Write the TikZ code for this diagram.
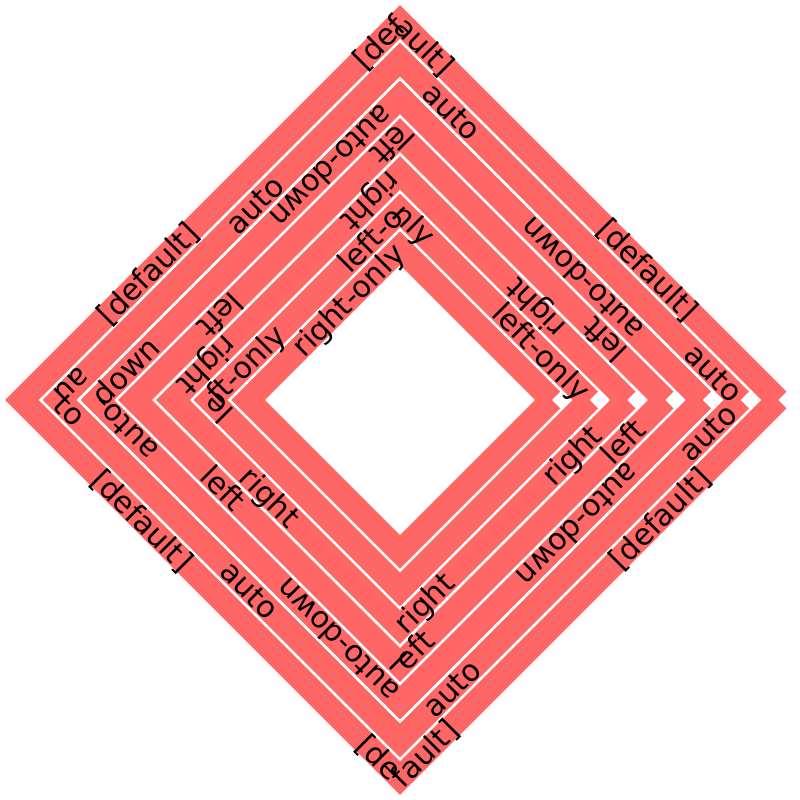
\documentclass[tikz,border=0pt]{standalone}
\usepackage{fontspec}
\newfontfamily\lblfam{DejaVu Sans}
\usetikzlibrary{decorations.text}

\definecolor{ringred}{RGB}{255,102,102}
\newcommand\lblsize{30}
\newcommand\lblfont{\lblfam\fontsize{\lblsize}{36}\selectfont}

% label #3 (#4 em wide) centred at arc length #2 on ring #1, read along the ring
\newcommand\lblfwd[4]{%
  \pgfmathsetlengthmacro\lblind{#2-0.5*#4*\lblsize}%
  \path[ringtext, decoration={text={|\lblfont|#3}, text align={left indent=\lblind}}]
    (#1,0) -- (0,#1) -- (-#1,0) -- (0,-#1) -- (#1,0);}
% same, read against the ring
\newcommand\lblrev[4]{%
  \pgfmathsetlengthmacro\lblind{5.65685*#1-#2-0.5*#4*\lblsize}%
  \path[ringtext, decoration={text={|\lblfont|#3}, text align={left indent=\lblind}}]
    (#1,0) -- (0,-#1) -- (-#1,0) -- (0,#1) -- (#1,0);}

\begin{document}
\begin{tikzpicture}[
    x=1pt, y=1pt,
    ring/.style={draw=ringred, line width=23.7pt, line cap=butt, line join=miter},
    ringtext/.style={decorate, decoration={text along path, raise=-10.5pt}}
]
\fill[white] (-400,-400) rectangle (400,400);

% Rings
\foreach \r in {378.2, 340.5, 302.7, 265.0, 227.2, 189.5, 151.8}
  \draw[ring] (\r,0) -- (0,\r) -- (-\r,0) -- (0,-\r) -- (\r,0);

% [default]
\lblrev{378.2}{184}{[default]}{4.299}
\lblrev{378.2}{530}{[default]}{4.299}
\lblrev{378.2}{891}{[default]}{4.299}
\lblfwd{378.2}{1240}{[default]}{4.299}
\lblfwd{378.2}{1615}{[default]}{4.299}
\lblfwd{378.2}{1972}{[default]}{4.299}

% auto
\lblrev{340.5}{38}{auto}{2.251}
\lblrev{340.5}{408}{auto}{2.251}
\lblrev{340.5}{687}{auto}{2.251}
\lblfwd{340.5}{959}{auto}{2.251}
\lblfwd{340.5}{1232}{auto}{2.251}
\lblfwd{340.5}{1518}{auto}{2.251}
\lblfwd{340.5}{1880}{auto}{2.251}

% auto-down
\lblfwd{302.7}{171}{auto-down}{5.311}
\lblfwd{302.7}{525}{auto-down}{5.311}
\lblrev{302.7}{855}{auto-down}{5.311}
\lblrev{302.7}{1196}{auto-down}{5.311}
\lblrev{302.7}{1536}{auto-down}{5.311}

% left
\lblfwd{265.0}{85}{left}{1.637}
\lblfwd{265.0}{385}{left}{1.637}
\lblfwd{265.0}{629}{left}{1.637}
\lblfwd{265.0}{874}{left}{1.637}
\lblfwd{265.0}{1141}{left}{1.637}
\lblfwd{265.0}{1440}{left}{1.637}

% right
\lblfwd{227.2}{130}{right}{2.35}
\lblfwd{227.2}{362}{right}{2.35}
\lblfwd{227.2}{594}{right}{2.35}
\lblfwd{227.2}{780}{right}{2.35}
\lblfwd{227.2}{998}{right}{2.35}
\lblfwd{227.2}{1207}{right}{2.35}

% left-only
\lblrev{189.5}{68}{left-only}{4.114}
\lblrev{189.5}{287}{left-only}{4.114}
\lblrev{189.5}{499}{left-only}{4.114}

% right-only
\lblrev{151.8}{288}{right-only}{4.827}

\end{tikzpicture}
\end{document}
